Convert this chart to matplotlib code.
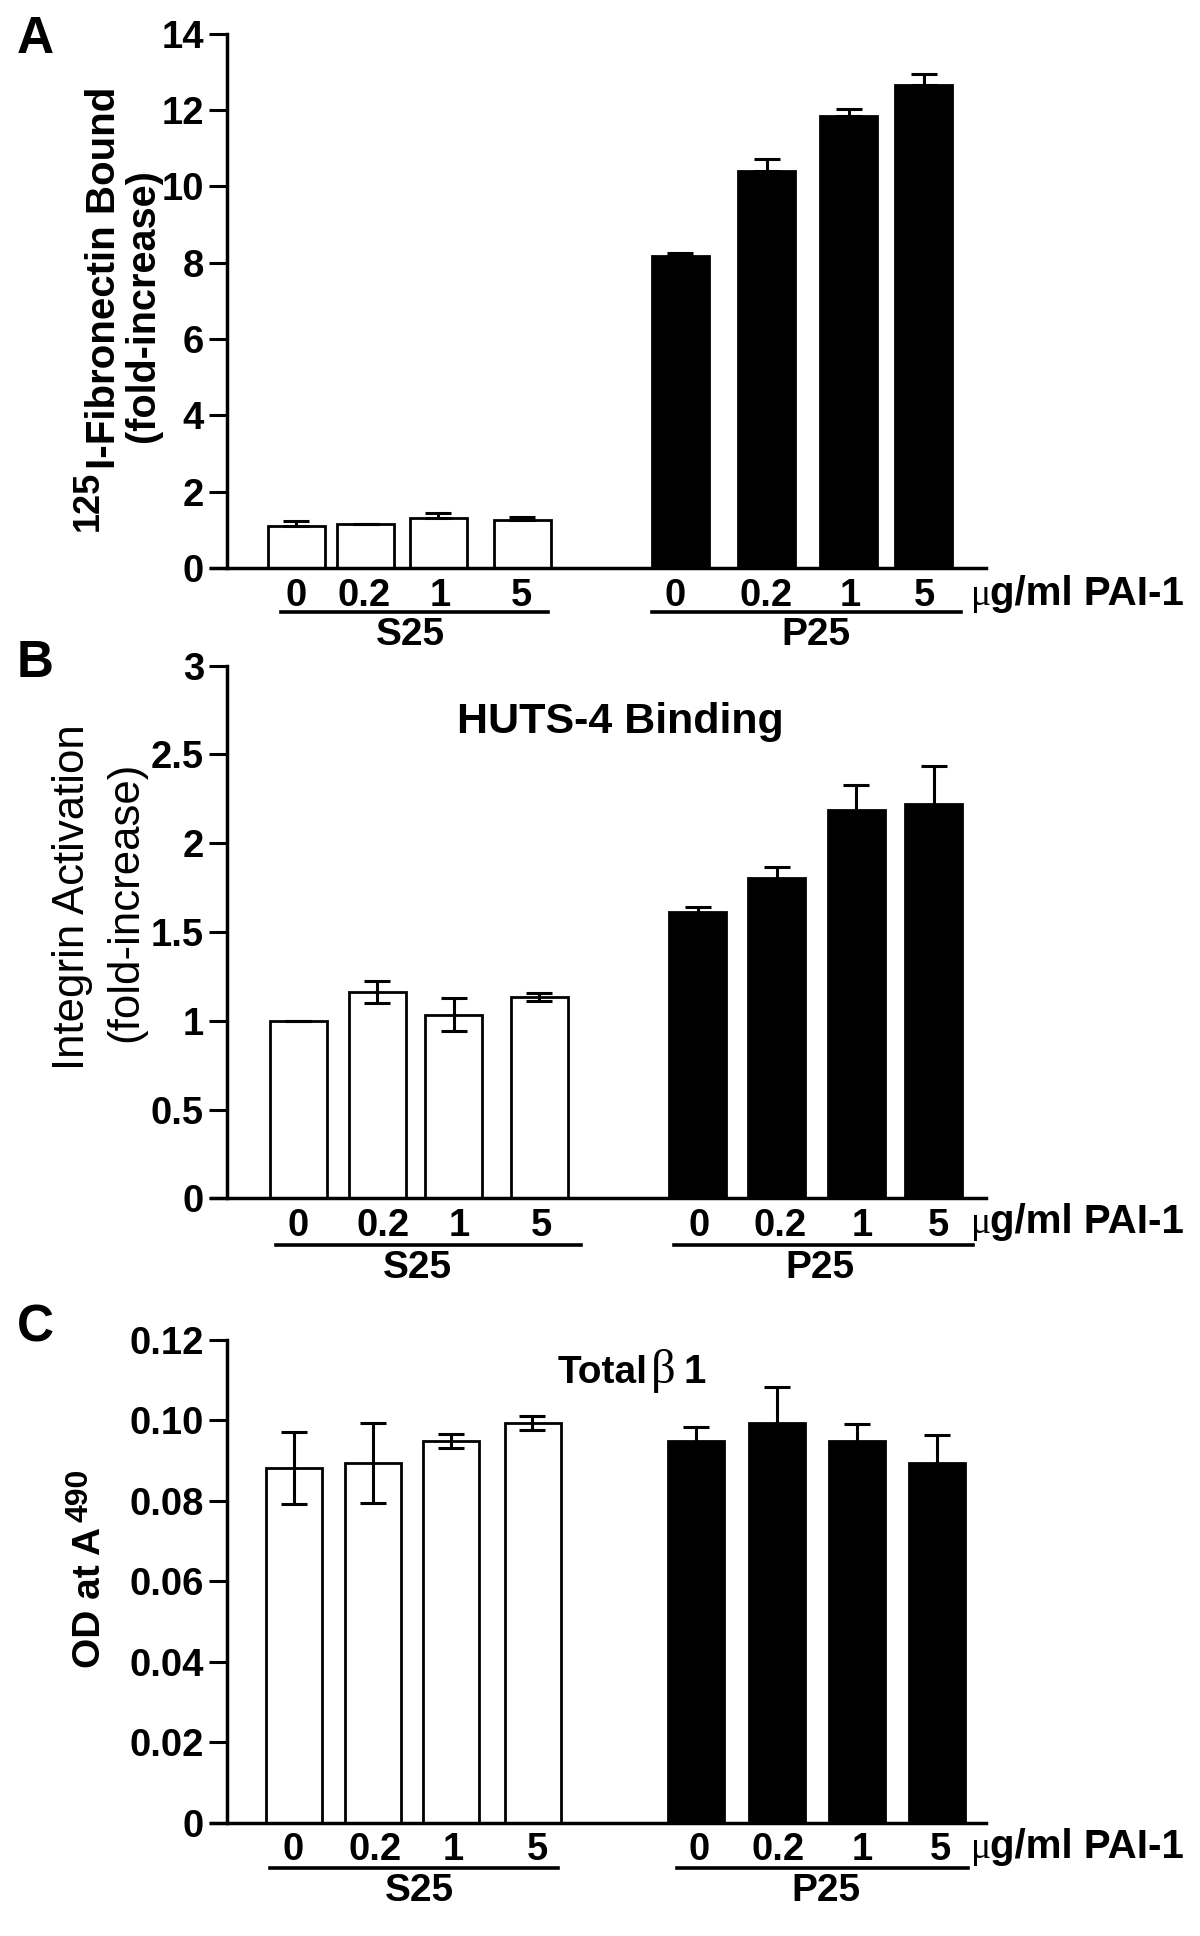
import matplotlib
matplotlib.use('Agg')
import matplotlib.pyplot as plt
from matplotlib.lines import Line2D

plt.rcParams['font.family'] = ['Liberation Sans', 'DejaVu Sans']
plt.rcParams['font.weight'] = 'bold'

# ---- data ----
doses = ['0', '0.2', '1', '5']

# A: 125I-fibronectin bound (fold increase)
fn_s25 = [1.11, 1.14, 1.30, 1.26]
fn_s25_err = [0.11, 0.02, 0.13, 0.08]
fn_p25 = [8.16, 10.40, 11.85, 12.66]
fn_p25_err = [0.09, 0.30, 0.18, 0.29]

# B: HUTS-4 binding, integrin activation (fold increase)
huts_s25 = [1.00, 1.163, 1.034, 1.133]
huts_s25_err = [0.0, 0.062, 0.094, 0.024]
huts_p25 = [1.611, 1.806, 2.188, 2.221]
huts_p25_err = [0.03, 0.06, 0.14, 0.215]

# C: total beta1, OD at A490
b1_s25 = [0.0882, 0.0894, 0.0948, 0.0993]
b1_s25_err = [0.0089, 0.0100, 0.0018, 0.0017]
b1_p25 = [0.0948, 0.0994, 0.0948, 0.0894]
b1_p25_err = [0.0036, 0.0089, 0.0044, 0.0069]

ticks_a = [0, 2, 4, 6, 8, 10, 12, 14]
ticklab_a = ['0', '2', '4', '6', '8', '10', '12', '14']
ticks_b = [0, 0.5, 1, 1.5, 2, 2.5, 3]
ticklab_b = ['0', '0.5', '1', '1.5', '2', '2.5', '3']
ticks_c = [0, 0.02, 0.04, 0.06, 0.08, 0.10, 0.12]
ticklab_c = ['0', '0.02', '0.04', '0.06', '0.08', '0.10', '0.12']

# ---- layout (figure pixels) ----
W, H = 1200, 1936
X0, X1, YAX = 211, 986, 227
SERIF = ['Liberation Serif', 'DejaVu Serif']


def fx(x):
    return x / W


def fy(y):
    return 1 - y / H


fig = plt.figure(figsize=(12, 19.36), dpi=100)


def hline(x0, x1, y):
    fig.add_artist(Line2D([fx(x0), fx(x1)], [fy(y), fy(y)], color='black',
                          lw=2.6, transform=fig.transFigure))


def panel(top, bottom, ymax, ticks, ticklab, bar_x, lab_x, width,
          s25, s25_err, p25, p25_err, both, lab_y, line_y, s_line, p_line, s_cx, p_cx):
    ax = fig.add_axes([fx(X0), fy(bottom), fx(X1) - fx(X0), fy(top) - fy(bottom)])
    ax.set_xlim(X0, X1)
    ax.set_ylim(0, ymax)
    for s in ['top', 'right']:
        ax.spines[s].set_visible(False)
    ax.spines['left'].set_position(('data', YAX))
    ax.spines['left'].set_linewidth(2.5)
    ax.spines['bottom'].set_linewidth(2.5)
    ax.set_yticks(ticks, ticklab)
    ax.tick_params(axis='y', direction='out', length=13, width=2.2, pad=3.5, labelsize=27.5)
    ax.set_xticks(lab_x, doses * 2)
    ax.tick_params(axis='x', length=0, pad=7, labelsize=27.5)

    ax.bar(bar_x[:4], s25, width=width, color='white', edgecolor='black', linewidth=2, zorder=2)
    ax.bar(bar_x[4:], p25, width=width, color='black', edgecolor='black', linewidth=2, zorder=2)
    if both:
        es, ep = s25_err, p25_err
    else:
        es = [[0] * 4, s25_err]
        ep = [[0] * 4, p25_err]
    ax.errorbar(bar_x[:4], s25, yerr=es, fmt='none', ecolor='black', elinewidth=2.2,
                capsize=9.5, capthick=2.2, zorder=3)
    ax.errorbar(bar_x[4:], p25, yerr=ep, fmt='none', ecolor='black', elinewidth=2.2,
                capsize=9.5, capthick=2.2, zorder=3)

    # dose unit after the last tick label
    fig.text(fx(971), fy(lab_y), '\u03bc', family=SERIF, weight='normal', size=27,
             ha='left', va='baseline')
    fig.text(fx(990), fy(lab_y), 'g/ml PAI-1', size=29, ha='left', va='baseline')

    hline(s_line[0], s_line[1], line_y)
    hline(p_line[0], p_line[1], line_y)
    fig.text(fx(s_cx), fy(line_y + 23), 'S25', size=28, ha='center', va='center')
    fig.text(fx(p_cx), fy(line_y + 23), 'P25', size=28, ha='center', va='center')
    return ax


# A
panel(33.5, 568, 14, ticks_a, ticklab_a,
      [296, 365.5, 438, 522, 680.5, 766.8, 849, 924],
      [296.6, 363.6, 440, 521, 675, 766.5, 850.7, 924.5], 57,
      fn_s25, fn_s25_err, fn_p25, fn_p25_err, False,
      605, 612, (280.5, 548), (651.7, 960.5), 410, 816)

# B
panel(665.7, 1198.4, 3, ticks_b, ticklab_b,
      [298, 377, 453.5, 539, 698, 777, 856.4, 934],
      [298.5, 382.7, 459, 541.5, 698.7, 780, 862, 938.7], 57,
      huts_s25, huts_s25_err, huts_p25, huts_p25_err, True,
      1233, 1245, (276, 580.7), (673.5, 973), 417.5, 820)

# C
panel(1339.8, 1822.7, 0.12, ticks_c, ticklab_c,
      [294, 373, 451, 532.5, 696, 776.6, 857.5, 937.4],
      [292.8, 375, 453.5, 537.7, 698.7, 778, 862, 940], 56,
      b1_s25, b1_s25_err, b1_p25, b1_p25_err, True,
      1858, 1867.6, (269.8, 558), (676.5, 968), 419, 826)

# panel letters
for letter, yb in [('A', 53), ('B', 677), ('C', 1342)]:
    fig.text(fx(17), fy(yb), letter, size=37, ha='left', va='baseline')

# y labels
rot = dict(rotation=90, rotation_mode='anchor', va='baseline')
fig.text(fx(97.6), fy(471), '125', size=26, ha='right', **rot)
fig.text(fx(115), fy(469), 'I-Fibronectin Bound', size=29, ha='left', **rot)
fig.text(fx(154), fy(306), '(fold-increase)', size=28.5, ha='center', **rot)

fig.text(fx(84), fy(897), 'Integrin Activation', size=31.5, weight='normal', ha='center', **rot)
fig.text(fx(137), fy(902), '(fold-increase)', size=31.5, weight='normal', ha='center', **rot)

fig.text(fx(100), fy(1668), 'OD at A', size=28, ha='left', **rot)
fig.text(fx(88), fy(1522), '490', size=23, ha='left', **rot)

# titles
fig.text(fx(620), fy(722), 'HUTS-4 Binding', size=31, ha='center', va='center')
fig.text(fx(558), fy(1383), 'Total', size=28, ha='left', va='baseline')
fig.text(fx(651), fy(1383), '\u03b2', family=SERIF, weight='normal', size=35,
         ha='left', va='baseline')
fig.text(fx(684), fy(1383), '1', size=29, ha='left', va='baseline')

fig.savefig('out.png', dpi=100, facecolor='white')
